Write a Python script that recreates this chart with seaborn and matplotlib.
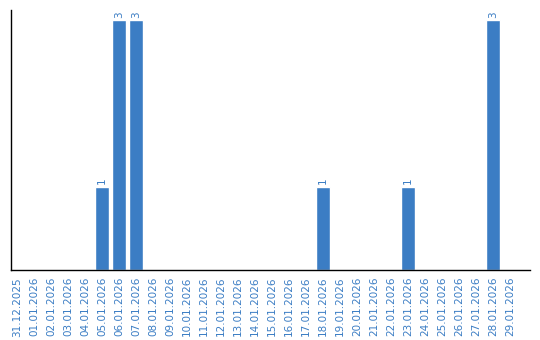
import matplotlib
matplotlib.use("Agg")
import matplotlib.pyplot as plt
import seaborn as sns
import pandas as pd

dates = ["31.12.2025", "01.01.2026", "02.01.2026", "03.01.2026", "04.01.2026",
         "05.01.2026", "06.01.2026", "07.01.2026", "08.01.2026", "09.01.2026",
         "10.01.2026", "11.01.2026", "12.01.2026", "13.01.2026", "14.01.2026",
         "15.01.2026", "16.01.2026", "17.01.2026", "18.01.2026", "19.01.2026",
         "20.01.2026", "21.01.2026", "22.01.2026", "23.01.2026", "24.01.2026",
         "25.01.2026", "26.01.2026", "27.01.2026", "28.01.2026", "29.01.2026"]
counts = [0, 0, 0, 0, 0, 1, 3, 3, 0, 0, 0, 0, 0, 0, 0, 0, 0, 0, 1, 0,
          0, 0, 0, 1, 0, 0, 0, 0, 3, 0]

df = pd.DataFrame({"date": dates, "count": counts})

sns.set_style("white")
plt.rcParams["font.family"] = ["DejaVu Sans"]

blue = "#3b7dc4"
fig = plt.figure(figsize=(5.4, 3.4), dpi=100)
ax = fig.add_axes([11/540, 1 - 270/340, 519/540, 260/340])
sns.barplot(data=df, x="date", y="count", color=blue, width=0.82,
            saturation=1, ax=ax)
ax.set_xlim(-0.35, 30.18)
ax.set_ylim(0, 3.12)
for i, v in enumerate(counts):
    if v > 0:
        ax.text(i, v + 0.03, str(v), rotation=90, ha="center", va="bottom",
                fontsize=7.5, color=blue)
ax.set_xlabel("")
ax.set_ylabel("")
ax.set_yticks([])
ax.tick_params(axis="x", length=0, pad=5, labelsize=7.5, labelcolor=blue,
               rotation=90)
for s in ["top", "right"]:
    ax.spines[s].set_visible(False)
for s in ["left", "bottom"]:
    ax.spines[s].set_color("black")
    ax.spines[s].set_linewidth(1.0)
fig.savefig("out.png", dpi=100)
